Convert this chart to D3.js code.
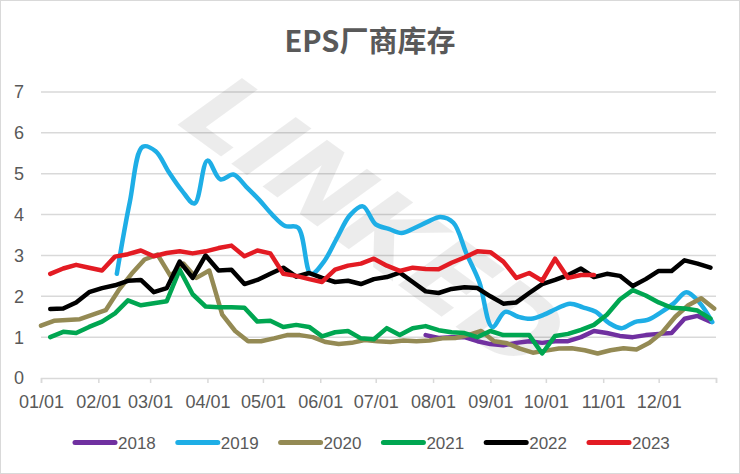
<!DOCTYPE html>
<html>
<head>
<meta charset="utf-8">
<script src="https://cdn.jsdelivr.net/npm/d3@7"></script>
<style>
  html, body { margin: 0; padding: 0; background: #fff; }
  svg { display: block; }
</style>
</head>
<body>
<svg id="chart" width="740" height="474"></svg>
<script>
// ---------------- DATA ----------------
const title = "EPS厂商库存";
const seriesNames = ["2018", "2019", "2020", "2021", "2022", "2023"];
const seriesColors = ["#7030a0", "#1eaee6", "#948a54", "#00a651", "#000000", "#e31b23"];
const monthLabels = ["01/01","02/01","03/01","04/01","05/01","06/01","07/01","08/01","09/01","10/01","11/01","12/01"];
const yTicks = [0, 1, 2, 3, 4, 5, 6, 7];

// first weekly observation date (MM/DD) of each series
const startDates = ["07/28", "02/11", "01/01", "01/06", "01/06", "01/06"];

const values2018 = [1.05,0.98,1.0,1.0,0.9,0.83,0.8,0.86,0.9,0.86,0.9,0.9,1.0,1.15,1.1,1.03,1.0,1.05,1.08,1.1,1.45,1.52,1.38];
const values2019 = [2.55,4.3,5.66,5.55,5.05,4.6,4.27,5.32,4.86,4.98,4.68,4.36,4.0,3.72,3.68,2.55,2.85,3.42,3.98,4.2,3.76,3.65,3.55,3.67,3.82,3.94,3.8,3.05,2.35,1.25,1.62,1.5,1.45,1.55,1.7,1.82,1.73,1.62,1.35,1.22,1.37,1.42,1.6,1.82,2.1,1.85,1.37];
const values2020 = [1.28,1.4,1.42,1.44,1.55,1.66,2.15,2.55,2.9,3.02,2.5,2.8,2.45,2.63,1.55,1.15,0.9,0.9,0.97,1.05,1.05,1.0,0.88,0.83,0.86,0.93,0.9,0.88,0.92,0.9,0.92,0.97,0.98,1.05,1.15,0.9,0.85,0.72,0.62,0.67,0.72,0.73,0.68,0.6,0.68,0.73,0.7,0.86,1.12,1.5,1.78,1.95,1.7];
const values2021 = [1.0,1.13,1.1,1.25,1.38,1.58,1.9,1.78,1.83,1.88,2.65,2.05,1.75,1.73,1.73,1.72,1.38,1.4,1.25,1.3,1.25,1.02,1.12,1.15,0.97,0.95,1.22,1.05,1.22,1.27,1.17,1.12,1.1,1.0,1.15,1.05,1.05,1.05,0.6,1.03,1.08,1.18,1.3,1.55,1.92,2.15,2.02,1.85,1.72,1.7,1.65,1.45];
const values2022 = [1.69,1.7,1.85,2.1,2.2,2.27,2.38,2.4,2.1,2.2,2.85,2.45,3.0,2.63,2.65,2.3,2.4,2.55,2.7,2.48,2.57,2.45,2.35,2.38,2.3,2.42,2.47,2.58,2.35,2.12,2.08,2.18,2.22,2.2,2.0,1.82,1.85,2.08,2.3,2.4,2.52,2.68,2.47,2.55,2.5,2.25,2.42,2.62,2.62,2.88,2.8,2.7];
const values2023 = [2.55,2.68,2.77,2.7,2.63,2.97,3.03,3.12,2.98,3.06,3.1,3.05,3.1,3.18,3.24,2.98,3.12,3.05,2.55,2.5,2.42,2.35,2.65,2.75,2.8,2.92,2.75,2.62,2.7,2.67,2.66,2.82,2.95,3.1,3.08,2.85,2.45,2.57,2.38,2.92,2.45,2.52,2.52];

const seriesValues = [values2018, values2019, values2020, values2021, values2022, values2023];

// ---------------- CHART ----------------
const svg = d3.select("#chart");
const W = 740, H = 474;
const margin = { left: 41, right: 24, top: 92, bottom: 96 };
const textColor = "#595959";
const gridColor = "#d9d9d9";
const font = "'Liberation Sans', Arial, sans-serif";

const yr = 2023;
const parseMD = s => { const [m, d] = s.split("/").map(Number); return new Date(Date.UTC(yr, m - 1, d)); };
const startYear = new Date(Date.UTC(yr, 0, 1));
const endYear = new Date(Date.UTC(yr + 1, 0, 1));

const x = d3.scaleUtc().domain([startYear, endYear]).range([margin.left, W - margin.right]);
const y = d3.scaleLinear().domain([0, 7]).range([H - margin.bottom, margin.top]);

svg.append("rect").attr("x", 0.5).attr("y", 0.5).attr("width", W - 1).attr("height", H - 1)
  .attr("fill", "#fff").attr("stroke", "#d9d9d9");

// title
svg.append("text").attr("x", 370).attr("y", 52).attr("text-anchor", "middle")
  .attr("font-family", "'Noto Sans CJK SC', sans-serif").attr("font-weight", "bold")
  .attr("font-size", 29).attr("fill", textColor).text(title);

// gridlines
svg.append("g").selectAll("line").data(yTicks.filter(v => v > 0)).join("line")
  .attr("x1", x.range()[0]).attr("x2", x.range()[1])
  .attr("y1", d => y(d)).attr("y2", d => y(d))
  .attr("stroke", gridColor).attr("stroke-width", 1.5);

// watermark
svg.append("text").attr("transform", "translate(368,228) rotate(36) skewX(-18)")
  .attr("text-anchor", "middle").attr("dominant-baseline", "middle")
  .attr("font-family", "'DejaVu Sans', sans-serif").attr("font-weight", "bold")
  .attr("font-size", 104).attr("fill", "#000").attr("fill-opacity", 0.075)
  .text("LINKED");

// y labels
svg.append("g").selectAll("text").data(yTicks).join("text")
  .attr("x", 24).attr("y", d => y(d)).attr("dy", "0.36em").attr("text-anchor", "end")
  .attr("font-family", font).attr("font-size", 18).attr("fill", textColor).text(d => d);

// x axis
const monthDates = monthLabels.map(parseMD);
const xAxis = d3.axisBottom(x).tickValues([...monthDates, endYear])
  .tickSize(5).tickPadding(12)
  .tickFormat((d, i) => i < monthLabels.length ? monthLabels[i] : "");
const gx = svg.append("g").attr("transform", `translate(0,${y(0)})`).call(xAxis);
gx.select(".domain").attr("stroke", gridColor).attr("stroke-width", 1.5);
gx.selectAll(".tick line").attr("stroke", gridColor).attr("stroke-width", 1.5);
gx.selectAll(".tick text").attr("font-family", font).attr("font-size", 18).attr("fill", textColor);

// lines
const seriesData = seriesValues.map((vals, si) => {
  const s0 = parseMD(startDates[si]);
  return vals.map((v, i) => ({ date: d3.utcDay.offset(s0, 7 * i), value: v }));
});

seriesData.forEach((pts, si) => {
  const line = d3.line().x(d => x(d.date)).y(d => y(d.value))
    .curve(si === 1 ? d3.curveCatmullRom.alpha(0.5) : d3.curveLinear);
  svg.append("path").datum(pts).attr("d", line)
    .attr("fill", "none").attr("stroke", seriesColors[si]).attr("stroke-width", 4.5)
    .attr("stroke-linejoin", "round").attr("stroke-linecap", "round");
});

// legend
const legend = svg.append("g");
seriesNames.forEach((name, i) => {
  const lx = 73 + i * 102.8;
  const g = legend.append("g");
  g.append("line").attr("x1", lx + 2).attr("x2", lx + 42).attr("y1", 442.5).attr("y2", 442.5)
    .attr("stroke", seriesColors[i]).attr("stroke-width", 5).attr("stroke-linecap", "round");
  g.append("text").attr("x", lx + 45).attr("y", 449).attr("font-family", font)
    .attr("font-size", 17).attr("fill", textColor).text(name);
});
</script>
</body>
</html>
